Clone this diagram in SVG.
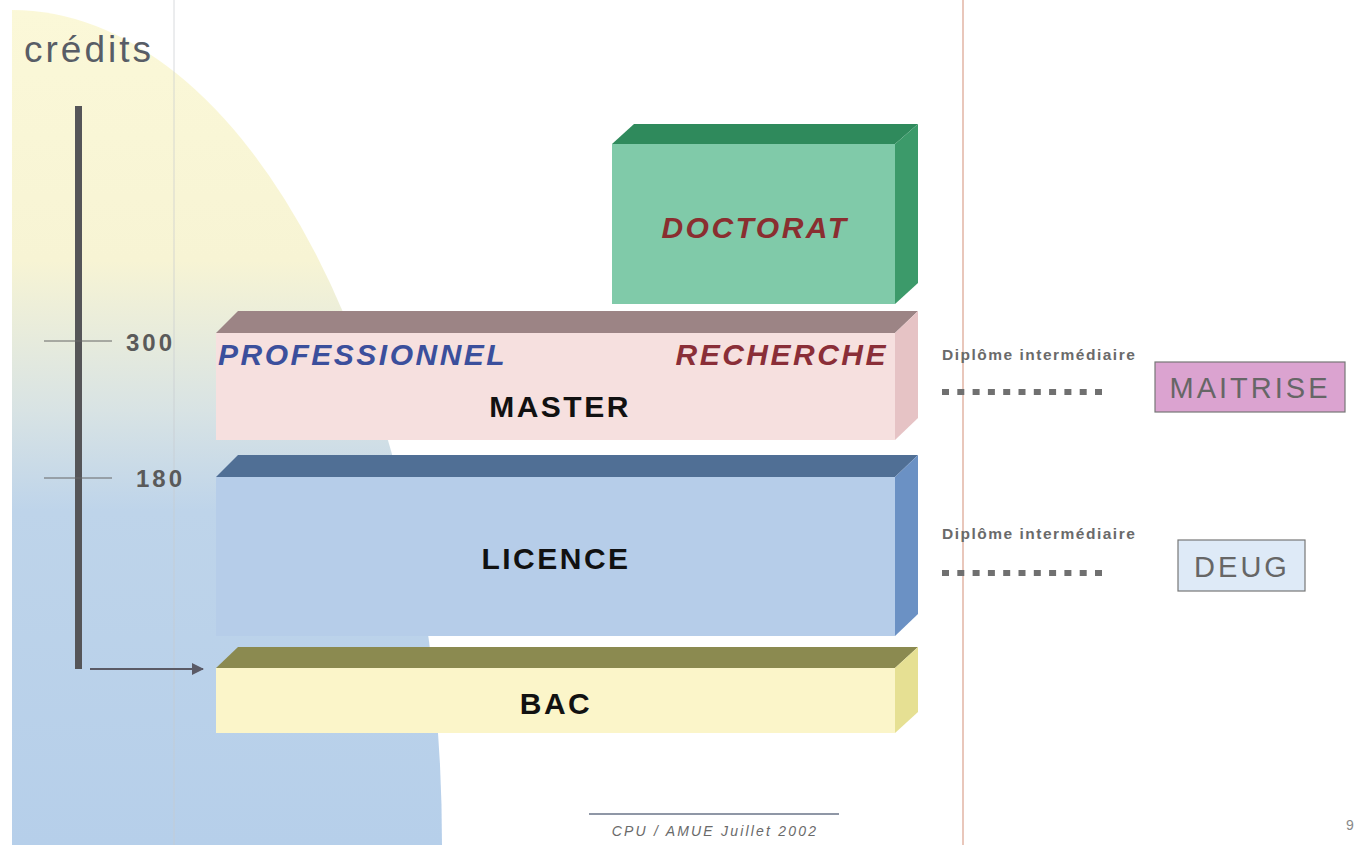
<svg xmlns="http://www.w3.org/2000/svg" width="1354" height="845" viewBox="0 0 1354 845">
<defs>
<linearGradient id="bg" x1="0" y1="0" x2="0" y2="1">
<stop offset="0" stop-color="#fbf8d8"/>
<stop offset="0.3" stop-color="#f7f4d4"/>
<stop offset="0.48" stop-color="#d8e3e4"/>
<stop offset="0.6" stop-color="#bed4ea"/>
<stop offset="1" stop-color="#b6cfea"/>
</linearGradient>
<marker id="arr" markerWidth="12" markerHeight="12" refX="11" refY="6" orient="auto" markerUnits="userSpaceOnUse">
<path d="M0,0 L12,6 L0,12 Z" fill="#5a5a66"/>
</marker>
<style>
.lbl{font-family:"Liberation Sans",Arial,sans-serif;font-weight:bold;font-size:30px;fill:#111;text-anchor:middle;letter-spacing:2.5px}
.it{font-family:"Liberation Sans",Arial,sans-serif;font-weight:bold;font-style:italic;font-size:30px;letter-spacing:2.5px}
.dip{font-family:"Liberation Sans",Arial,sans-serif;font-weight:bold;font-size:15.5px;fill:#6a6a6a;letter-spacing:1.5px}
.dash{stroke:#707070;stroke-width:6;stroke-dasharray:7 8.3;fill:none}
.side{stroke:#777;stroke-width:1.2}
.sidet{font-family:"Liberation Sans",Arial,sans-serif;font-size:29px;fill:#666;text-anchor:middle;letter-spacing:3px}
.num{font-family:"Liberation Sans",Arial,sans-serif;font-weight:bold;font-size:24px;fill:#5a5a5a;letter-spacing:3px}
</style>
</defs>
<rect x="0" y="0" width="1354" height="845" fill="#ffffff"/>
<path d="M12,10 A430,835 0 0 1 442,845 L12,845 Z" fill="url(#bg)"/>
<line x1="174" y1="0" x2="174" y2="845" stroke="#c8ccd0" stroke-width="1" opacity="0.7"/>
<line x1="963" y1="0" x2="963" y2="845" stroke="#e2b5a5" stroke-width="1.5"/>

<g id="axis">
<text x="24" y="62" font-family="Liberation Sans, Arial, sans-serif" font-size="37" fill="#585d66" letter-spacing="3">crédits</text>
<rect x="75" y="106" width="7" height="563" fill="#555558"/>
<line x1="44" y1="341" x2="112" y2="341" stroke="#666" stroke-width="1"/>
<line x1="44" y1="478" x2="112" y2="478" stroke="#666" stroke-width="1"/>
<text class="num" x="126" y="351">300</text>
<text class="num" x="136" y="487">180</text>
</g>

<g id="doctorat">
<polygon points="612,144 634,124 918,124 895,144" fill="#2f8a5c"/>
<polygon points="895,144 918,124 918,283 895,304" fill="#3c9a6a"/>
<rect x="612" y="144" width="283" height="160" fill="#80caa9"/>
<text class="it" x="755" y="238" fill="#8a2e30" text-anchor="middle" letter-spacing="2.3">DOCTORAT</text>
</g>

<g id="master">
<polygon points="216,333 238,311 918,311 895,333" fill="#9c8485"/>
<polygon points="895,333 918,311 918,418 895,440" fill="#e6c3c5"/>
<rect x="216" y="333" width="679" height="107" fill="#f6e0df"/>
<text class="it" x="218" y="365" fill="#3b4f9c" letter-spacing="2.4">PROFESSIONNEL</text>
<text class="it" x="888" y="365" fill="#8a2e38" text-anchor="end" letter-spacing="2.9">RECHERCHE</text>
<text class="lbl" x="560" y="417">MASTER</text>
</g>

<g id="licence">
<polygon points="216,477 238,455 918,455 895,477" fill="#506f95"/>
<polygon points="895,477 918,455 918,614 895,636" fill="#6b91c4"/>
<rect x="216" y="477" width="679" height="159" fill="#b6cde9"/>
<text class="lbl" x="556" y="569">LICENCE</text>
</g>

<g id="bac">
<polygon points="216,668 238,647 918,647 895,668" fill="#8b8a50"/>
<polygon points="895,668 918,647 918,712 895,733" fill="#e6e093"/>
<rect x="216" y="668" width="679" height="65" fill="#fbf5c9"/>
<text class="lbl" x="556" y="714">BAC</text>
</g>

<g id="maitrise">
<text class="dip" x="942" y="360">Diplôme intermédiaire</text>
<rect class="side" x="1155" y="362" width="190" height="50" fill="#dba3d0"/>
<text class="sidet" x="1250" y="398">MAITRISE</text>
</g>

<g id="deug">
<text class="dip" x="942" y="539">Diplôme intermédiaire</text>
<rect class="side" x="1178" y="540" width="127" height="51" fill="#deeaf7"/>
<text class="sidet" x="1242" y="577" letter-spacing="4.3">DEUG</text>
</g>

<g id="connectors">
<line x1="90" y1="669" x2="203" y2="669" stroke="#5a5a66" stroke-width="2" marker-end="url(#arr)"/>
<line class="dash" x1="942" y1="392" x2="1102" y2="392"/>
<line class="dash" x1="942" y1="573" x2="1102" y2="573"/>
</g>

<g id="footer">
<line x1="589" y1="814" x2="839" y2="814" stroke="#6a7488" stroke-width="1.5"/>
<text x="715" y="836" font-family="Liberation Sans, Arial, sans-serif" font-style="italic" font-size="14" fill="#6a6a6a" text-anchor="middle" letter-spacing="2.2">CPU / AMUE Juillet 2002</text>
<text x="1346" y="830" font-family="Liberation Sans, Arial, sans-serif" font-size="14" fill="#888">9</text>
</g>
</svg>
